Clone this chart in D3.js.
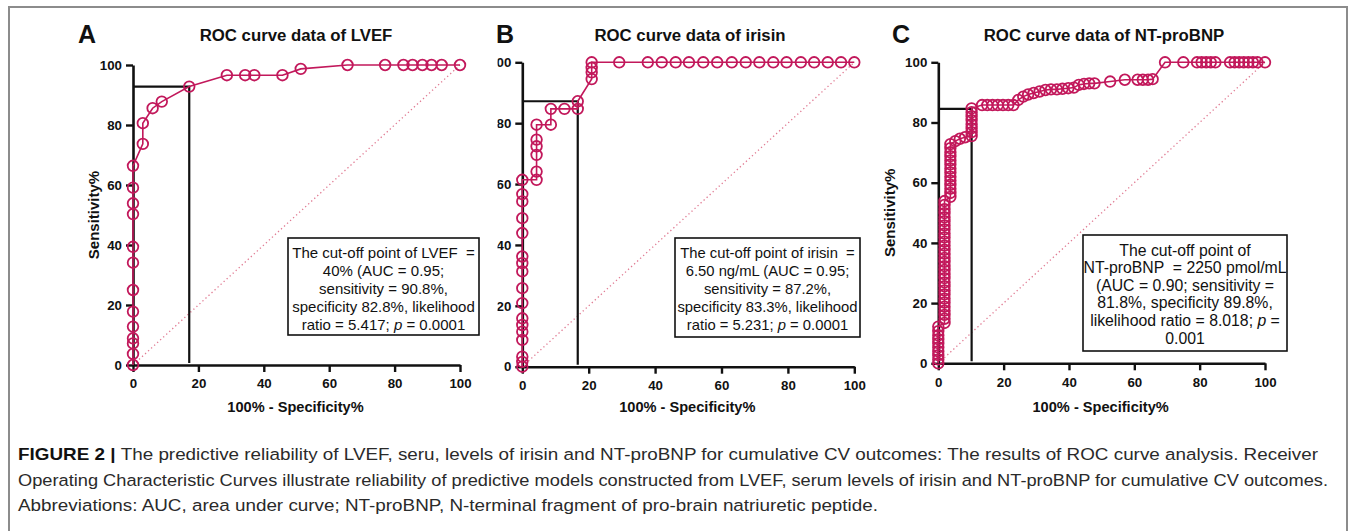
<!DOCTYPE html>
<html>
<head>
<meta charset="utf-8">
<script src="https://cdn.jsdelivr.net/npm/d3@7"></script>
<style>
  body { margin: 0; background: #fff; }
  svg { display: block; font-family: "Liberation Sans", Arial, sans-serif; }
</style>
</head>
<body>
<svg id="fig" width="1355" height="531"></svg>
<script>
// ---- data (100% - specificity %, sensitivity %) ----
const tickValues = [0, 20, 40, 60, 80, 100];

const lvefRoc = [[0,0],[0,3.7],[0,7.2],[0,8.9],[0,12.8],[0,17.8],[0,25],[0,34.1],[0,39.4],[0,50.3],[0,53.9],[0,59.1],[0,66.4],
  [3,73.7],[3,80.6],[6,85.6],[8.8,87.8],[17.2,92.8],[28.7,96.6],[34.3,96.6],[37.1,96.6],[45.7,96.6],[51.3,98.7],
  [65.6,100],[77.1,100],[82.7,100],[85.5,100],[88.5,100],[91.3,100],[94.4,100],[100,100]];

const irisinRoc = [[0,0],[0,1.6],[0,3.3],[0,8.8],[0,11.5],[0,13.7],[0,15.9],[0,20.9],[0,25.8],[0,31.3],[0,34],[0,36.2],
  [0,43.9],[0,48.8],[0,54.3],[0,56.7],[0,61.4],[4.3,61.4],[4.3,64.1],[4.3,69.6],[4.3,72.4],[4.3,74.6],[4.3,79.5],
  [8.6,79.5],[8.6,84.7],[12.7,84.7],[16.7,84.7],[16.7,87.2],[20.9,94.5],[20.9,96.7],[20.9,98.2],[20.9,100],
  [29.2,100],[37.8,100],[42,100],[46.2,100],[50.2,100],[54.5,100],[58.7,100],[63.1,100],[67.3,100],[71.4,100],
  [75.6,100],[79.6,100],[83.9,100],[87.9,100],[92,100],[96,100],[100,100]];

const ntprobnpRoc = [[0,0],[0,1.3],[0,2.7],[0,4],[0,5.3],[0,6.7],[0,8],[0,9.3],[0,10.7],[0,12.2],
  [1.9,13.4],[1.9,14.8],[1.9,16.1],[1.9,17.5],[1.9,18.8],[1.9,20.2],[1.9,21.5],[1.9,22.9],[1.9,24.2],[1.9,25.6],
  [1.9,26.9],[1.9,28.3],[1.9,29.6],[1.9,31],[1.9,32.3],[1.9,33.7],[1.9,35],[1.9,36.4],[1.9,37.7],[1.9,39.1],
  [1.9,40.4],[1.9,41.8],[1.9,43.1],[1.9,44.5],[1.9,45.8],[1.9,47.2],[1.9,48.5],[1.9,49.9],[1.9,51.2],[1.9,52.6],[1.9,53.9],
  [3.7,55.3],[3.7,56.6],[3.7,58],[3.7,59.3],[3.7,60.7],[3.7,62],[3.7,63.4],[3.7,64.7],[3.7,66.1],[3.7,67.4],
  [3.7,68.8],[3.7,70.1],[3.7,71.5],[3.7,72.8],[5.2,73.8],[6.6,74.6],[8.2,75.1],
  [10.2,75.5],[10.2,76.8],[10.2,78.1],[10.2,79.4],[10.2,80.8],[10.2,82.1],[10.2,83.4],[10.2,84.7],
  [13.4,85.8],[15,85.8],[16.6,85.8],[18.2,85.8],[19.8,85.8],[21.4,85.8],[23,85.8],
  [24.5,87.5],[26,88.6],[27.5,89.3],[29.2,89.8],[31,90.3],[32.8,90.8],[34.5,91],[36.3,91],[38,91.2],[39.8,91.4],
  [41.5,91.6],[43,92.5],[44.6,92.8],[46.2,93],[47.8,93],[52.6,93.6],[57.1,94.2],[61,94.2],[62.6,94.2],[64.2,94.2],
  [65.6,94.4],[69.4,100],[75,100],[79.2,100],[80.6,100],[82,100],[83.4,100],[84.8,100],
  [89.3,100],[90.7,100],[92.1,100],[93.5,100],[94.9,100],[96.3,100],[97.7,100],[100,100]];

// cut-off point: [100 - specificity, sensitivity]
const lvefCutoff = [17.2, 92.8];
const irisinCutoff = [16.7, 87.2];
const ntprobnpCutoff = [10.2, 84.5];

const lvefNote = ["The cut-off point of LVEF  =", "40% (AUC = 0.95;", "sensitivity = 90.8%,",
  "specificity 82.8%, likelihood", "ratio = 5.417; {p} = 0.0001"];
const irisinNote = ["The cut-off point of irisin  =", "6.50 ng/mL (AUC = 0.95;", "sensitivity = 87.2%,",
  "specificity 83.3%, likelihood", "ratio = 5.231; {p} = 0.0001"];
const ntprobnpNote = ["The cut-off point of", "NT-proBNP  = 2250 pmol/mL", "(AUC = 0.90; sensitivity =",
  "81.8%, specificity 89.8%,", "likelihood ratio = 8.018; {p} =", "0.001"];

const captionLines = [
  "The predictive reliability of LVEF, seru, levels of irisin and NT-proBNP for cumulative CV outcomes: The results of ROC curve analysis. Receiver",
  "Operating Characteristic Curves illustrate reliability of predictive models constructed from LVEF, serum levels of irisin and NT-proBNP for cumulative CV outcomes.",
  "Abbreviations: AUC, area under curve; NT-proBNP, N-terminal fragment of pro-brain natriuretic peptide."
];

const curveColor = "#c2185b";

const svg = d3.select("#fig");
svg.append("rect").attr("width", 1355).attr("height", 531).attr("fill", "#fff");
const defs = svg.append("defs");

// outer frame of the figure
svg.append("path")
  .attr("d", "M9,540 V7 H1347 V540")
  .attr("fill", "none").attr("stroke", "#8c8c8c").attr("stroke-width", 2);

const panels = [
  { letter: "A", letterX: 78, title: "ROC curve data of LVEF", titleX: 296, data: lvefRoc, cut: lvefCutoff,
    note: lvefNote, noteSize: 15, lh: 18.2, firstLine: 19.5,
    xr: [133, 460], yr: [365, 65], box: [288, 238, 479, 335], yLabelX: 93, clipLeft: null },
  { letter: "B", letterX: 496, title: "ROC curve data of irisin", titleX: 690, data: irisinRoc, cut: irisinCutoff,
    note: irisinNote, noteSize: 14.8, lh: 18, firstLine: 19.5,
    xr: [522.3, 854.3], yr: [366.7, 62.3], box: [675, 238, 860, 337], yLabelX: null, clipLeft: 497.5 },
  { letter: "C", letterX: 892, title: "ROC curve data of NT-proBNP", titleX: 1104, data: ntprobnpRoc, cut: ntprobnpCutoff,
    note: ntprobnpNote, noteSize: 15.8, lh: 17.6, firstLine: 20.5,
    xr: [938.3, 1265], yr: [363.3, 62.3], box: [1083, 235, 1287, 351], yLabelX: 889, clipLeft: null }
];

function styleAxis(g) {
  g.attr("font-family", null).attr("font-size", 13.3);
  g.select(".domain").attr("stroke", "#111").attr("stroke-width", 2.6);
  g.selectAll(".tick line").attr("stroke", "#111").attr("stroke-width", 2.4);
  g.selectAll(".tick text").attr("fill", "#111").attr("font-weight", "bold");
}

panels.forEach((p, k) => {
  const x = d3.scaleLinear().domain([0, 100]).range(p.xr);
  const y = d3.scaleLinear().domain([0, 100]).range(p.yr);
  const g = svg.append("g");

  // chance diagonal
  g.append("line")
    .attr("x1", x(0)).attr("y1", y(0)).attr("x2", x(100)).attr("y2", y(100))
    .attr("stroke", "#e07a92").attr("stroke-width", 1.3).attr("stroke-dasharray", "1.3,2.8");

  // cut-off guide lines
  g.append("path")
    .attr("d", `M${x(0)},${y(p.cut[1])} H${x(p.cut[0])} V${y(0) - 2}`)
    .attr("fill", "none").attr("stroke", "#111").attr("stroke-width", 2.2);

  // axes
  const yAxis = g.append("g")
    .attr("transform", `translate(${x(0)},0)`)
    .call(d3.axisLeft(y).tickValues(tickValues).tickSize(7).tickSizeOuter(0).tickPadding(4));
  styleAxis(yAxis);
  if (p.clipLeft !== null) {
    // the left part of this panel is cut off in the figure ("100" shows as "00")
    const id = "clip" + k;
    defs.append("clipPath").attr("id", id)
      .append("rect").attr("x", p.clipLeft - x(0)).attr("y", 0).attr("width", 400).attr("height", 531);
    yAxis.attr("clip-path", `url(#${id})`);
  }

  const xAxis = g.append("g")
    .attr("transform", `translate(0,${y(0)})`)
    .call(d3.axisBottom(x).tickValues(tickValues).tickSize(7).tickSizeOuter(0).tickPadding(7));
  styleAxis(xAxis);

  // ROC curve
  g.append("path").datum(p.data)
    .attr("d", d3.line().x(d => x(d[0])).y(d => y(d[1])))
    .attr("fill", "none").attr("stroke", curveColor).attr("stroke-width", 1.6);

  g.selectAll("circle.pt").data(p.data).join("circle")
    .attr("class", "pt")
    .attr("cx", d => x(d[0])).attr("cy", d => y(d[1])).attr("r", 5.3)
    .attr("fill", "none").attr("stroke", curveColor).attr("stroke-width", 1.8);

  // titles
  g.append("text").attr("x", p.letterX).attr("y", 43)
    .attr("font-size", 25).attr("font-weight", "bold").attr("fill", "#111").text(p.letter);
  g.append("text").attr("x", p.titleX).attr("y", 41).attr("text-anchor", "middle")
    .attr("font-size", 16.8).attr("font-weight", "bold").attr("fill", "#111").text(p.title);
  g.append("text").attr("x", (p.xr[0] + p.xr[1]) / 2 - 1).attr("y", 412).attr("text-anchor", "middle")
    .attr("font-size", 14.6).attr("font-weight", "bold").attr("fill", "#111").text("100% - Specificity%");
  if (p.yLabelX !== null) {
    g.append("text").attr("transform", `translate(${p.yLabelX},${(p.yr[0] + p.yr[1]) / 2}) rotate(-90)`)
      .attr("text-anchor", "middle").attr("dominant-baseline", "central")
      .attr("font-size", 15).attr("font-weight", "bold").attr("fill", "#111").text("Sensitivity%");
  }

  // annotation box
  const [bx0, by0, bx1, by1] = p.box;
  g.append("rect").attr("x", bx0).attr("y", by0).attr("width", bx1 - bx0).attr("height", by1 - by0)
    .attr("fill", "#fff").attr("stroke", "#111").attr("stroke-width", 1.6);
  const cx = (bx0 + bx1) / 2;
  p.note.forEach((line, i) => {
    const t = g.append("text").attr("x", cx).attr("y", by0 + p.firstLine + i * p.lh)
      .attr("text-anchor", "middle").attr("font-size", p.noteSize).attr("fill", "#111")
      .style("white-space", "pre");
    const parts = line.split("{p}");
    parts.forEach((s, j) => {
      if (j > 0) t.append("tspan").attr("font-style", "italic").text("p");
      t.append("tspan").text(s);
    });
  });
});

// caption
const captionY = [460, 486, 511];
const captionW = [1300, 1310, 860];
captionLines.forEach((line, i) => {
  const t = svg.append("text").attr("x", 18).attr("y", captionY[i])
    .attr("font-size", 16.3).attr("fill", "#2a2a2a")
    .attr("textLength", captionW[i]).attr("lengthAdjust", "spacingAndGlyphs");
  if (i === 0) t.append("tspan").attr("font-weight", "bold").attr("fill", "#111").text("FIGURE 2 | ");
  t.append("tspan").text(line);
});
</script>
</body>
</html>
